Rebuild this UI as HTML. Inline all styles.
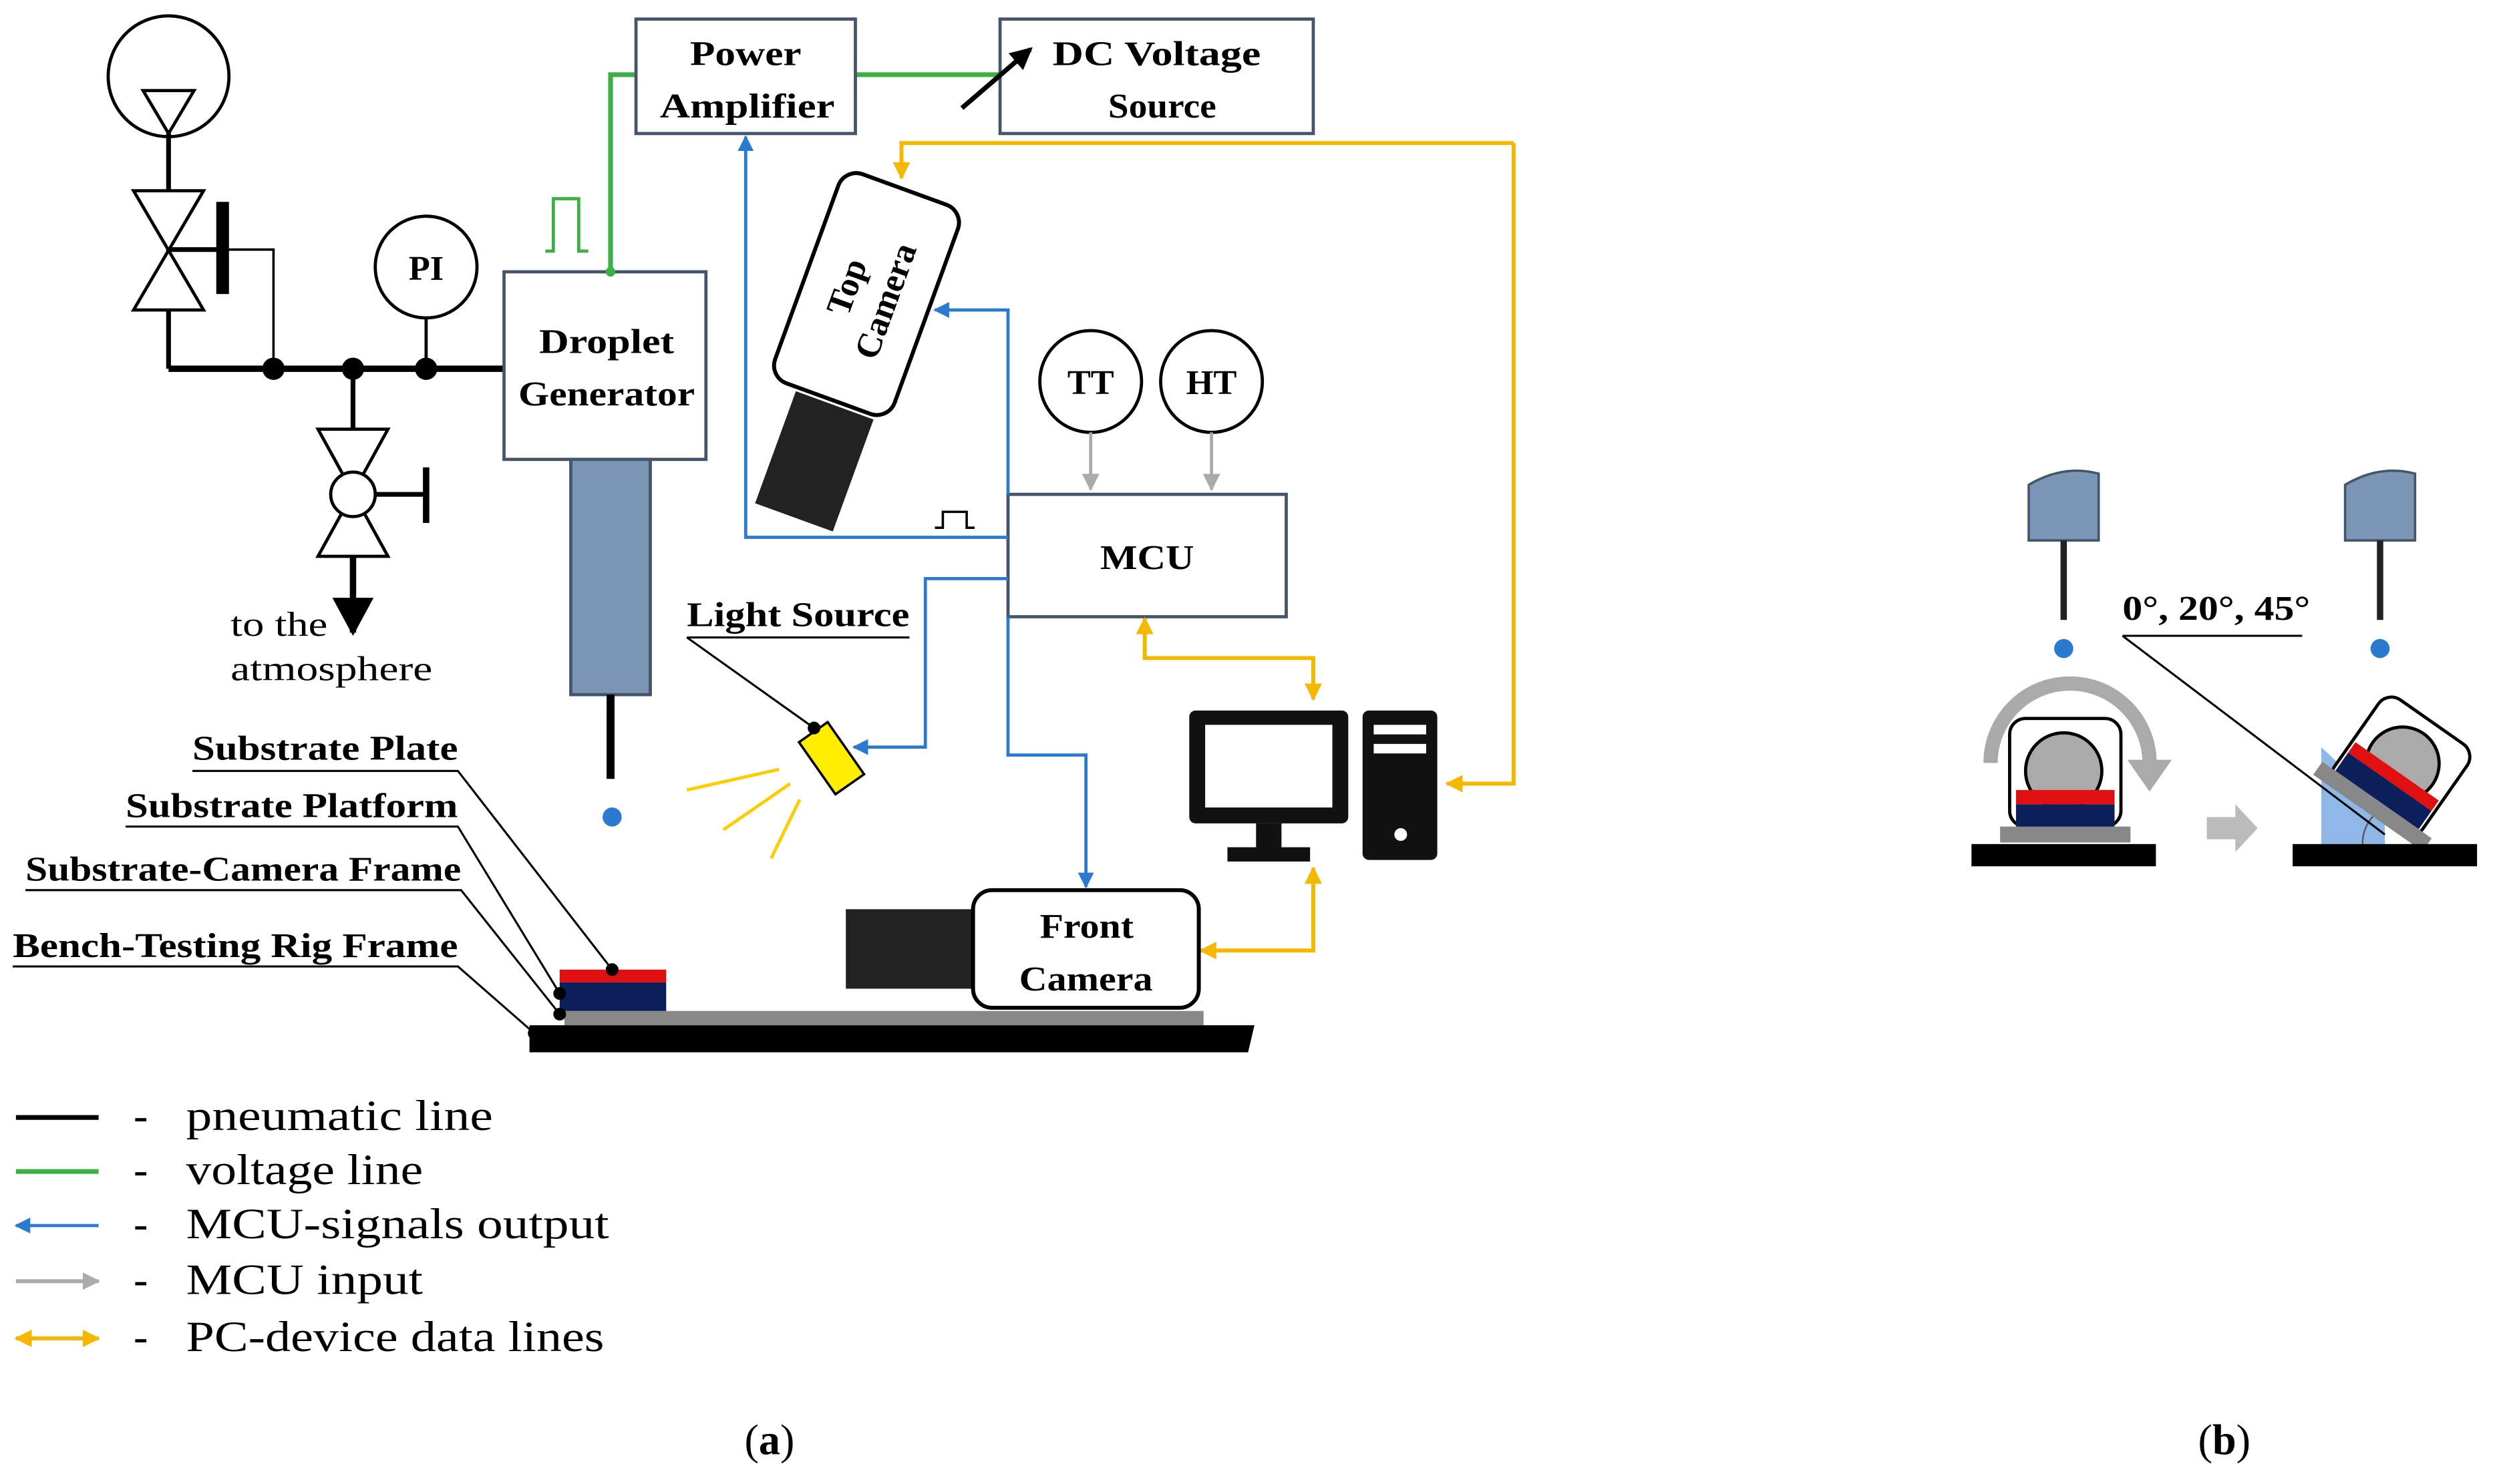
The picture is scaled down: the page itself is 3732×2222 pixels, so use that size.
<!DOCTYPE html>
<html><head><meta charset="utf-8"><style>
html,body{margin:0;padding:0;background:#fff}
svg{display:block}
text{font-family:"Liberation Serif",serif}
.b{font-weight:bold;font-size:22px}
</style></head><body>
<svg width="3732" height="2222" viewBox="0 0 1568 933.6" xmlns="http://www.w3.org/2000/svg">
<defs>
<marker id="ab" markerWidth="10" markerHeight="10" refX="9" refY="5" orient="auto" markerUnits="userSpaceOnUse" viewBox="0 0 10 10"><path d="M0,0L10,5L0,10z" fill="#2a7bd0"/></marker>
<marker id="ag" markerWidth="11" markerHeight="11" refX="10" refY="5.5" orient="auto" markerUnits="userSpaceOnUse" viewBox="0 0 11 11"><path d="M0,0L11,5.5L0,11z" fill="#aaa"/></marker>
<marker id="ay" markerWidth="11" markerHeight="11" refX="10" refY="5.5" orient="auto-start-reverse" markerUnits="userSpaceOnUse" viewBox="0 0 11 11"><path d="M0,0L11,5.5L0,11z" fill="#f5b800"/></marker>
<marker id="ak" markerWidth="14" markerHeight="14" refX="12" refY="7" orient="auto" markerUnits="userSpaceOnUse" viewBox="0 0 14 14"><path d="M0,0L14,7L0,14z" fill="#000"/></marker>
<marker id="akb" markerWidth="24" markerHeight="26" refX="22" refY="13" orient="auto" markerUnits="userSpaceOnUse" viewBox="0 0 24 26"><path d="M0,0L24,13L0,26z" fill="#000"/></marker>
</defs>
<g fill="none" stroke="#000" stroke-width="2">
<circle cx="106" cy="48" r="38"/>
<path d="M90,57H122L106,84Z"/>
<path d="M106,84V232" stroke-width="3"/>
<path d="M84,120H128L84,195H128Z" fill="#fff"/>
<path d="M106,157H140" stroke-width="3"/>
<path d="M140,127V185" stroke-width="8"/>
<path d="M140,157H172V232" stroke-width="1.5"/>
<path d="M106,232H318" stroke-width="4"/>
<circle cx="268" cy="168" r="32"/>
<path d="M268,200V232"/>
<path d="M222,232V270" stroke-width="3"/>
<path d="M200,270H244L200,350H244Z" fill="#fff"/>
<circle cx="222" cy="311" r="14" fill="#fff"/>
<path d="M236,311H268" stroke-width="3"/>
<path d="M268,294V329" stroke-width="4"/>
<path d="M222,350V398" stroke-width="4" marker-end="url(#akb)"/>
</g>
<g fill="#000"><circle cx="172" cy="232" r="7"/><circle cx="222" cy="232" r="7"/><circle cx="268" cy="232" r="7"/><circle cx="318" cy="232" r="3"/></g>
<text x="268" y="176" font-size="22" font-weight="bold" text-anchor="middle">PI</text>
<text x="145" y="400" font-size="22" textLength="61" lengthAdjust="spacingAndGlyphs">to the</text>
<text x="145" y="428" font-size="22" textLength="127" lengthAdjust="spacingAndGlyphs">atmosphere</text>
<rect x="317" y="171" width="127" height="118" fill="#fff" stroke="#44546a" stroke-width="2"/>
<text class="b" x="339" y="222" textLength="85" lengthAdjust="spacingAndGlyphs">Droplet</text>
<text class="b" x="326" y="255" textLength="111" lengthAdjust="spacingAndGlyphs">Generator</text>
<rect x="359" y="289" width="50" height="148" fill="#7a96b4" stroke="#44546a" stroke-width="2"/>
<path d="M384,437V490" stroke="#000" stroke-width="5"/>
<circle cx="385" cy="514" r="6" fill="#2a7bd0"/>
<g fill="none" stroke="#3cb043" stroke-width="3">
<path d="M384,171V47H400"/><path d="M538,47H629"/>
<path d="M343,158H348V125H364V158H370" stroke-width="2"/>
</g>
<circle cx="384" cy="171" r="3" fill="#3cb043"/>
<rect x="400" y="12" width="138" height="72" fill="#fff" stroke="#44546a" stroke-width="2"/>
<text class="b" x="434" y="41" textLength="70" lengthAdjust="spacingAndGlyphs">Power</text>
<text class="b" x="415" y="74" textLength="110" lengthAdjust="spacingAndGlyphs">Amplifier</text>
<rect x="629" y="12" width="197" height="72" fill="#fff" stroke="#44546a" stroke-width="2"/>
<text class="b" x="662" y="41" textLength="131" lengthAdjust="spacingAndGlyphs">DC Voltage</text>
<text class="b" x="697" y="74" textLength="68" lengthAdjust="spacingAndGlyphs">Source</text>
<path d="M605,68L648,31" stroke="#000" stroke-width="3" marker-end="url(#ak)"/>
<g transform="translate(525,255) rotate(20)">
<rect x="-26" y="0" width="52" height="75" fill="#222"/>
</g>
<g transform="translate(545,185) rotate(20)">
<rect x="-40" y="-70" width="80" height="140" rx="12" fill="#fff" stroke="#000" stroke-width="2.5"/>
<text class="b" transform="rotate(-90)" x="0" y="-6" text-anchor="middle" font-size="23">Top</text>
<text class="b" transform="rotate(-90)" x="0" y="20" text-anchor="middle" font-size="23">Camera</text>
</g>
<circle cx="686" cy="240" r="32" fill="#fff" stroke="#000" stroke-width="2"/>
<circle cx="762" cy="240" r="32" fill="#fff" stroke="#000" stroke-width="2"/>
<text class="b" x="686" y="248" text-anchor="middle">TT</text>
<text class="b" x="762" y="248" text-anchor="middle">HT</text>
<path d="M686,272V308" stroke="#aaa" stroke-width="2" marker-end="url(#ag)"/>
<path d="M762,272V308" stroke="#aaa" stroke-width="2" marker-end="url(#ag)"/>
<rect x="634" y="311" width="175" height="77" fill="#fff" stroke="#44546a" stroke-width="2"/>
<text class="b" x="692" y="358" textLength="59" lengthAdjust="spacingAndGlyphs">MCU</text>
<g fill="none" stroke="#2a7bd0" stroke-width="2">
<path d="M634,338H469V86" marker-end="url(#ab)"/>
<path d="M634,311V195H588" marker-end="url(#ab)"/>
<path d="M634,388V475H683V558" marker-end="url(#ab)"/>
<path d="M634,364H582V470H537" marker-end="url(#ab)"/>
</g>
<path d="M588,332H593V322H608V332H613" fill="none" stroke="#000" stroke-width="1.5"/>
<g fill="none" stroke="#f5b800" stroke-width="2.5">
<path d="M952,90H567V112" marker-end="url(#ay)"/>
<path d="M952,90V493H910" marker-end="url(#ay)"/>
<path d="M720,389V414H826V440" marker-start="url(#ay)" marker-end="url(#ay)"/>
<path d="M826,546V598H755" marker-start="url(#ay)" marker-end="url(#ay)"/>
</g>
<rect x="748" y="447" width="100" height="71" rx="4" fill="#111"/>
<rect x="758" y="456" width="80" height="52" fill="#fff"/>
<rect x="790" y="518" width="16" height="16" fill="#111"/>
<rect x="772" y="533" width="52" height="9" fill="#111"/>
<rect x="857" y="447" width="47" height="94" rx="4" fill="#111"/>
<rect x="864" y="456" width="33" height="6" fill="#fff"/>
<rect x="864" y="468" width="33" height="6" fill="#fff"/>
<circle cx="881" cy="525" r="4" fill="#fff"/>
<text class="b" x="432" y="394" textLength="140" lengthAdjust="spacingAndGlyphs">Light Source</text>
<path d="M432,401H572M432,401L512,458" stroke="#000" stroke-width="1.3" fill="none"/>
<g transform="translate(523,477) rotate(-35)">
<rect x="-11" y="-20" width="22" height="40" fill="#ffee00" stroke="#000" stroke-width="1.5"/>
</g>
<circle cx="512" cy="458" r="4" fill="#000"/>
<g stroke="#ffcc00" stroke-width="2"><path d="M432,497L490,484M455,522L497,493M485,540L503,503"/></g>
<rect x="532" y="572" width="80" height="50" fill="#222"/>
<rect x="612" y="560" width="142" height="74" rx="12" fill="#fff" stroke="#000" stroke-width="2.5"/>
<text class="b" x="654" y="590" textLength="59" lengthAdjust="spacingAndGlyphs">Front</text>
<text class="b" x="641" y="623" textLength="84" lengthAdjust="spacingAndGlyphs">Camera</text>
<rect x="355" y="636" width="402" height="9" fill="#888"/>
<path d="M333,645H789L785,662H333Z" fill="#000"/>
<rect x="352" y="618" width="67" height="18" fill="#0c1f5a"/>
<rect x="352" y="610" width="67" height="8" fill="#e01010"/>
<g stroke="#000" stroke-width="1.3" fill="none">
<path d="M121,485H288L385,610"/>
<path d="M79,520H288L352,625"/>
<path d="M16,560H290L352,638"/>
<path d="M8,608H288L336,650"/>
</g>
<g fill="#000"><circle cx="385" cy="610" r="4"/><circle cx="352" cy="625" r="4"/><circle cx="352" cy="638" r="4"/><circle cx="336" cy="650" r="4"/></g>
<text class="b" x="121" y="478" textLength="167" lengthAdjust="spacingAndGlyphs">Substrate Plate</text>
<text class="b" x="79" y="514" textLength="209" lengthAdjust="spacingAndGlyphs">Substrate Platform</text>
<text class="b" x="16" y="554" textLength="274" lengthAdjust="spacingAndGlyphs">Substrate-Camera Frame</text>
<text class="b" x="8" y="602" textLength="280" lengthAdjust="spacingAndGlyphs">Bench-Testing Rig Frame</text>
<path d="M10,703H62" stroke="#000" stroke-width="3"/>
<path d="M10,737H62" stroke="#3cb043" stroke-width="3"/>
<path d="M62,771H10" stroke="#2a7bd0" stroke-width="2" marker-end="url(#ab)"/>
<path d="M10,806H62" stroke="#aaa" stroke-width="2.5" marker-end="url(#ag)"/>
<path d="M10,842H62" stroke="#f5b800" stroke-width="2.5" marker-start="url(#ay)" marker-end="url(#ay)"/>
<g font-size="27">
<text x="84" y="711">-</text><text x="117" y="711" textLength="193" lengthAdjust="spacingAndGlyphs">pneumatic line</text>
<text x="84" y="745">-</text><text x="117" y="745" textLength="149" lengthAdjust="spacingAndGlyphs">voltage line</text>
<text x="84" y="779">-</text><text x="117" y="779" textLength="266" lengthAdjust="spacingAndGlyphs">MCU-signals output</text>
<text x="84" y="814">-</text><text x="117" y="814" textLength="149" lengthAdjust="spacingAndGlyphs">MCU input</text>
<text x="84" y="850">-</text><text x="117" y="850" textLength="263" lengthAdjust="spacingAndGlyphs">PC-device data lines</text>
<text x="484" y="915" text-anchor="middle">(<tspan font-weight="bold">a</tspan>)</text>
<text x="1399" y="915" text-anchor="middle">(<tspan font-weight="bold">b</tspan>)</text>
</g>
<g>
<path d="M1276,340V305Q1298,292 1320,298V340Z" fill="#7a96b4" stroke="#44546a" stroke-width="1.5"/>
<path d="M1298,340V390" stroke="#222" stroke-width="4"/>
<circle cx="1298" cy="408" r="6" fill="#2a7bd0"/>
<path d="M1475,340V305Q1497,292 1519,298V340Z" fill="#7a96b4" stroke="#44546a" stroke-width="1.5"/>
<path d="M1497,340V390" stroke="#222" stroke-width="4"/>
<circle cx="1497" cy="408" r="6" fill="#2a7bd0"/>
<path d="M1252,480A50,50 0 0 1 1352,480" fill="none" stroke="#aaa" stroke-width="9"/>
<path d="M1338,478L1366,478L1352,498Z" fill="#aaa"/>
<rect x="1264" y="452" width="70" height="68" rx="10" fill="#fff" stroke="#000" stroke-width="2"/>
<circle cx="1298" cy="485" r="24" fill="#aaa" stroke="#000" stroke-width="2"/>
<rect x="1268" y="506" width="62" height="14" fill="#0c1f5a"/>
<rect x="1268" y="497" width="62" height="9" fill="#e01010"/>
<rect x="1258" y="520" width="82" height="10" fill="#888"/>
<rect x="1240" y="531" width="116" height="14" fill="#000"/>
<path d="M1388,514H1406V506L1420,521L1406,536V528H1388Z" fill="#bbb"/>
<path d="M1460,470L1500,508L1500,531L1460,531Z" fill="#8fb8e8"/>
<path d="M1486,531A25,25 0 0 1 1500,508" fill="none" stroke="#555" stroke-width="1"/>
<g transform="translate(1510,482) rotate(35)">
<rect x="-34" y="-34" width="68" height="68" rx="10" fill="#fff" stroke="#000" stroke-width="2"/>
<circle cx="0" cy="-2" r="23" fill="#aaa" stroke="#000" stroke-width="2"/>
<rect x="-32" y="12" width="64" height="14" fill="#0c1f5a"/>
<rect x="-32" y="4" width="64" height="8" fill="#e01010"/>
<rect x="-42" y="26" width="84" height="10" fill="#888"/>
</g>
<rect x="1442" y="531" width="116" height="14" fill="#000"/>
<text class="b" x="1335" y="390" textLength="118" lengthAdjust="spacingAndGlyphs">0°, 20°, 45°</text>
<path d="M1335,400H1448M1335,400L1500,525" stroke="#000" stroke-width="1.3" fill="none"/>
</g>
</svg>
</body></html>
